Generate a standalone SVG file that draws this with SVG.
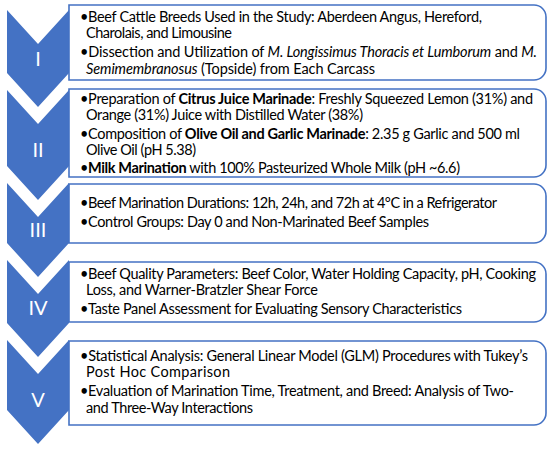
<svg xmlns="http://www.w3.org/2000/svg" width="550" height="449" viewBox="0 0 550 449">
<style>
.chev{fill:#4472C4;}
.box{fill:#fff;stroke:#4472C4;stroke-width:1.6;}
.lbl{font-family:Lato,"Liberation Sans",sans-serif;font-size:20px;fill:#fff;text-anchor:middle;}
.t{font-family:Lato,"Liberation Sans",sans-serif;font-size:14.5px;fill:#000;}
.b{font-weight:bold;}
.i{font-style:italic;}
</style>
<rect width="550" height="449" fill="#fff"/>
<g id="step1">
<path class="chev" d="M7,10 L38,44 L69,10 L69,73 L38,107 L7,73 Z"/>
<text class="lbl" x="38" y="66">I</text>
<path class="box" d="M69,5 H534 A12,12 0 0 1 546,17 V68 A12,12 0 0 1 534,80 H69 Z"/>
<text class="t" x="80" y="22" textLength="402" lengthAdjust="spacing">•Beef Cattle Breeds Used in the Study: Aberdeen Angus, Hereford,</text>
<text class="t" x="86" y="38" textLength="146" lengthAdjust="spacing">Charolais, and Limousine</text>
<text class="t" x="80" y="57" textLength="457" lengthAdjust="spacing">•Dissection and Utilization of <tspan class="i">M. Longissimus Thoracis et Lumborum</tspan> and <tspan class="i">M.</tspan></text>
<text class="t" x="86" y="74" textLength="289" lengthAdjust="spacing"><tspan class="i">Semimembranosus</tspan> (Topside) from Each Carcass</text>
</g>
<g id="step2">
<path class="chev" d="M7,90 L38,124 L69,90 L69,166 L38,200 L7,166 Z"/>
<text class="lbl" x="38" y="157">II</text>
<path class="box" d="M69,89 H534 A12,12 0 0 1 546,101 V165 A12,12 0 0 1 534,177 H69 Z"/>
<text class="t" x="80" y="104" textLength="453" lengthAdjust="spacing">•Preparation of <tspan class="b">Citrus Juice Marinade</tspan>: Freshly Squeezed Lemon (31%) and</text>
<text class="t" x="86" y="120" textLength="277" lengthAdjust="spacing">Orange (31%) Juice with Distilled Water (38%)</text>
<text class="t" x="80" y="139" textLength="440" lengthAdjust="spacing">•Composition of <tspan class="b">Olive Oil and Garlic Marinade</tspan>: 2.35 g Garlic and 500 ml</text>
<text class="t" x="86" y="155" textLength="110" lengthAdjust="spacing">Olive Oil (pH 5.38)</text>
<text class="t" x="80" y="173" textLength="380" lengthAdjust="spacing">•<tspan class="b">Milk Marination</tspan> with 100% Pasteurized Whole Milk (pH ~6.6)</text>
</g>
<g id="step3">
<path class="chev" d="M7,183 L38,217 L69,183 L69,243 L38,277 L7,243 Z"/>
<text class="lbl" x="38" y="237">III</text>
<path class="box" d="M69,184 H534 A12,12 0 0 1 546,196 V231 A12,12 0 0 1 534,243 H69 Z"/>
<text class="t" x="80" y="208" textLength="417" lengthAdjust="spacing">•Beef Marination Durations: 12h, 24h, and 72h at 4°C in a Refrigerator</text>
<text class="t" x="80" y="227" textLength="349" lengthAdjust="spacing">•Control Groups: Day 0 and Non-Marinated Beef Samples</text>
</g>
<g id="step4">
<path class="chev" d="M7,260 L38,294 L69,260 L69,323 L38,357 L7,323 Z"/>
<text class="lbl" x="38" y="315">IV</text>
<path class="box" d="M69,262 H534 A12,12 0 0 1 546,274 V310 A12,12 0 0 1 534,322 H69 Z"/>
<text class="t" x="80" y="279" textLength="456" lengthAdjust="spacing">•Beef Quality Parameters: Beef Color, Water Holding Capacity, pH, Cooking</text>
<text class="t" x="86" y="295" textLength="232" lengthAdjust="spacing">Loss, and Warner-Bratzler Shear Force</text>
<text class="t" x="80" y="314" textLength="382" lengthAdjust="spacing">•Taste Panel Assessment for Evaluating Sensory Characteristics</text>
</g>
<g id="step5">
<path class="chev" d="M7,340 L38,374 L69,340 L69,410 L38,444 L7,410 Z"/>
<text class="lbl" x="38" y="407">V</text>
<path class="box" d="M69,341 H534 A12,12 0 0 1 546,353 V413 A12,12 0 0 1 534,425 H69 Z"/>
<text class="t" x="80" y="361" textLength="448" lengthAdjust="spacing">•Statistical Analysis: General Linear Model (GLM) Procedures with Tukey’s</text>
<text class="t" x="86" y="377" textLength="144" lengthAdjust="spacing">Post Hoc Comparison</text>
<text class="t" x="80" y="396" textLength="434" lengthAdjust="spacing">•Evaluation of Marination Time, Treatment, and Breed: Analysis of Two-</text>
<text class="t" x="86" y="413" textLength="167" lengthAdjust="spacing">and Three-Way Interactions</text>
</g>
<g id="connectors"></g>
</svg>
